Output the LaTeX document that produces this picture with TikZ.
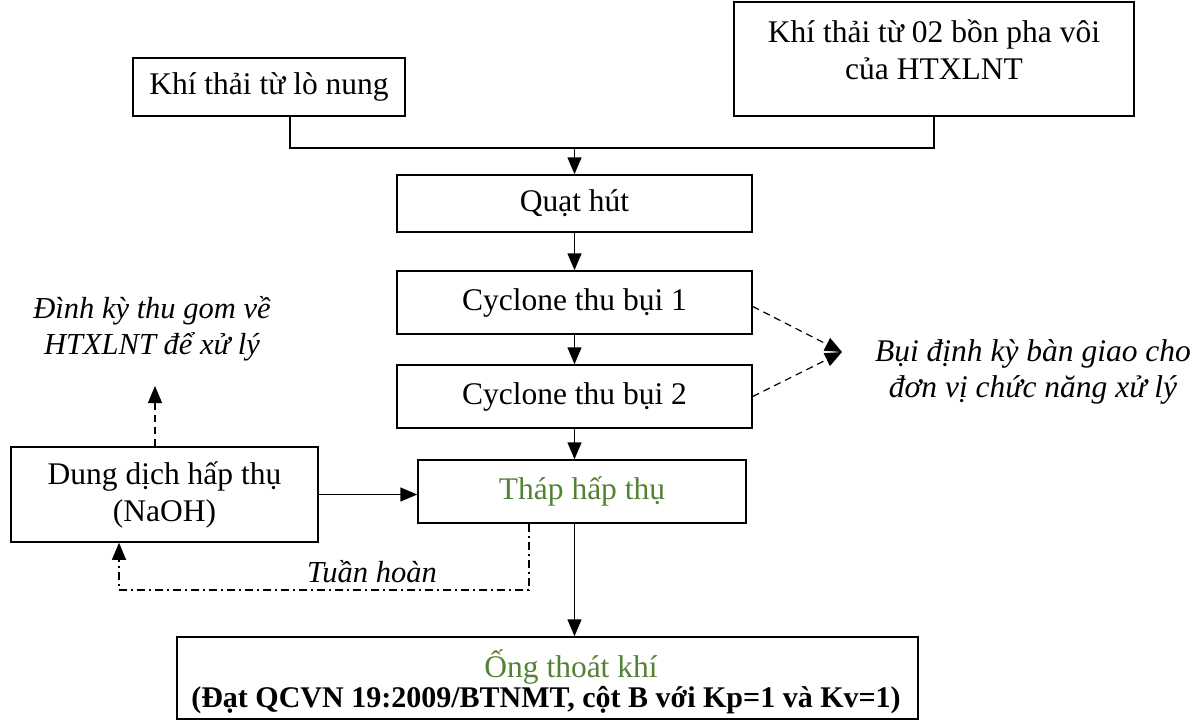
\documentclass[tikz,border=0pt]{standalone}
\usepackage{fontspec}
\setmainfont{Liberation Serif}
\usetikzlibrary{arrows.meta}
\definecolor{grn}{RGB}{84,130,53}
\begin{document}
\begin{tikzpicture}[x=1pt,y=-1pt,
  box/.style={draw, line width=1.5pt, inner sep=0pt, align=center, font=\fontsize{31.5}{37}\selectfont},
  ln/.style={line width=1.5pt},
  tipa/.style={-{Triangle[length=17pt,width=14pt]}},
  arr/.style={ln, tipa},
  dsh/.style={line width=1.2pt, dash pattern=on 7pt off 5pt},
  ddot/.style={line width=1.2pt, dash pattern=on 8pt off 4pt on 2pt off 4pt},
  lbl/.style={font=\fontsize{30.5}{36}\selectfont\itshape, align=center, inner sep=0pt}]
\useasboundingbox (0,0) rectangle (1195,720);
% boxes
\node[box, minimum width=272pt, minimum height=58pt] (b1) at (269,87) {Khí thải từ lò nung};
\node[box, minimum width=400pt, minimum height=114pt] (b2) at (934,59) {};
\node[inner sep=0pt, align=center, font=\fontsize{31.5}{37}\selectfont] (b2t) at (934,50) {Khí thải từ 02 bồn pha vôi\\của HTXLNT};
\node[box, minimum width=355pt, minimum height=57pt] (q) at (574.5,203.5) {Quạt hút};
\node[box, minimum width=355pt, minimum height=63pt] (c1) at (574.5,302.5) {Cyclone thu bụi 1};
\node[box, minimum width=355pt, minimum height=63pt] (c2) at (574.5,396.5) {Cyclone thu bụi 2};
\node[box, minimum width=328pt, minimum height=63pt, text=grn] (th) at (582,491.5) {Tháp hấp thụ};
\node[box, minimum width=307pt, minimum height=95pt] (d) at (164.5,494.5) {Dung dịch hấp thụ\\(NaOH)};
\node[box, minimum width=741pt, minimum height=82pt] (o) at (547.5,678) {};
\node[inner sep=0pt, anchor=base, text=grn, font=\fontsize{31.5}{36}\selectfont] (ot) at (571,677) {Ống thoát khí};
\node[inner sep=0pt, anchor=base, font=\fontsize{30}{34}\selectfont\bfseries] (ob) at (546,707) {(Đạt QCVN 19:2009/BTNMT, cột B với Kp=1 và Kv=1)};
% labels
\node[lbl] (dk) at (152,329) {Đình kỳ thu gom về\\HTXLNT để xử lý};
\node[lbl, font=\fontsize{31.5}{36}\selectfont\itshape] (bui) at (1033,372) {Bụi định kỳ bàn giao cho\\đơn vị chức năng xử lý};
\node[lbl, anchor=base] (th2) at (372,582) {Tuần hoàn};
% junction top
\coordinate (j1) at (290,148);
\coordinate (j2) at (934,148);
\coordinate (j3) at (574.5,148);
\draw[ln] (j1 |- b1.south) -- (j1) -- (j2) -- (j2 |- b2.south);
\draw[arr] (j3) -- (q.north);
\draw[arr] (q.south) -- (c1.north);
\draw[arr] (c1.south) -- (c2.north);
\draw[arr] (c2.south) -- (c2.south |- th.north);
\draw[arr] (q.south |- th.south) -- (q.south |- o.north);
\draw[arr] (d.east) -- (d.east -| th.west);
% dashed to Dinh ky
\coordinate (t1) at (155,386);
\draw[dsh, tipa] (t1 |- d.north) -- (t1);
% dash-dot recirculation
\coordinate (r1) at (529,590);
\coordinate (r2) at (119,590);
\draw[ddot, tipa] (r1 |- th.south) -- (r1) -- (r2) -- (r2 |- d.south);
% dust
\coordinate (tip) at (842,352);
\draw[dsh, tipa] ([yshift=-4pt]c1.east) -- (tip);
\draw[dsh, tipa] (c2.east) -- (tip);
\end{tikzpicture}
\end{document}
